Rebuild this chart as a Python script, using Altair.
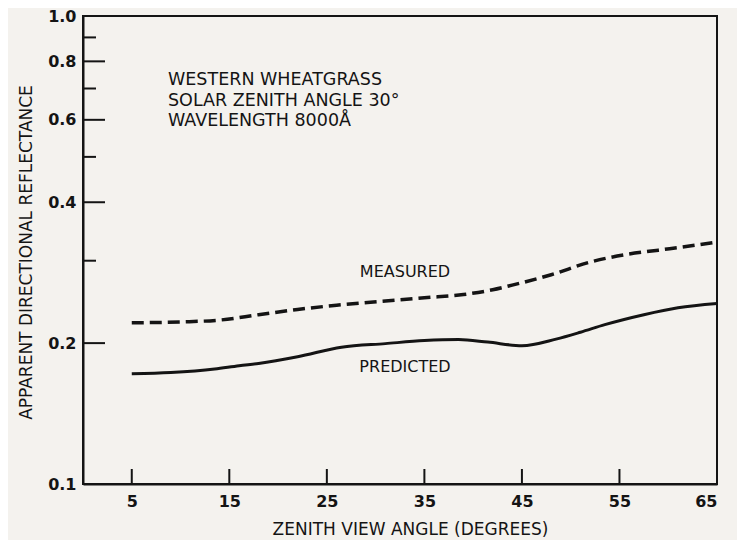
import altair as alt
import pandas as pd

# Measured (dashed) curve
meas_angle = [5, 10, 14, 18, 22, 26, 31, 35, 39, 42, 44, 48, 52, 56, 59, 62, 65]
meas_refl = [0.221, 0.222, 0.224, 0.230, 0.236, 0.241, 0.246, 0.250, 0.254,
             0.260, 0.266, 0.280, 0.298, 0.310, 0.316, 0.322, 0.329]

# Predicted (solid) curve
pred_angle = [5, 9, 13.5, 16, 18, 22, 26.5, 31, 35, 38.5, 41.5, 45, 48.5,
              51, 53.5, 57.5, 61, 65]
pred_refl = [0.172, 0.173, 0.176, 0.179, 0.181, 0.187, 0.196, 0.1995, 0.2025,
             0.2035, 0.201, 0.1975, 0.204, 0.211, 0.219, 0.230, 0.238, 0.243]

x_tick_labels = [5, 15, 25, 35, 45, 55, 65]
x_inner_ticks = [5, 15, 25, 35, 45, 55]
y_tick_labels = [0.1, 0.2, 0.4, 0.6, 0.8, 1.0]
y_major_ticks = [0.2, 0.4, 0.6, 0.8]
y_minor_ticks = [0.3, 0.5, 0.7, 0.9]

info_lines = ["WESTERN WHEATGRASS", "SOLAR ZENITH ANGLE 30°", "WAVELENGTH 8000Å"]
curve_labels = ["MEASURED", "PREDICTED"]

FONT = "DejaVu Sans"
INK = "#141414"

df_meas = pd.DataFrame({"angle": meas_angle, "refl": meas_refl})
df_pred = pd.DataFrame({"angle": pred_angle, "refl": pred_refl})

xscale = alt.Scale(domain=[0, 65], nice=False, zero=False)
yscale = alt.Scale(type="log", domain=[0.1, 1.0], nice=False)

x_axis = alt.Axis(
    values=x_tick_labels, ticks=False, grid=False, labelFont=FONT,
    labelFontSize=16, labelFontWeight="bold", labelColor=INK,
    labelPadding=9, domainColor=INK, domainWidth=2,
    title="ZENITH VIEW ANGLE (DEGREES)", titleFont=FONT, titleFontSize=17,
    titleFontWeight="normal", titleColor=INK, titleX=327, titleY=45,
    titleAlign="center", titleBaseline="middle",
)
y_axis = alt.Axis(
    values=y_tick_labels, format=".1f", ticks=False, grid=False,
    labelFont=FONT, labelFontSize=16, labelFontWeight="bold",
    labelColor=INK, labelPadding=7, domainColor=INK, domainWidth=2,
    title="APPARENT DIRECTIONAL REFLECTANCE", titleFont=FONT,
    titleFontSize=17, titleFontWeight="normal", titleColor=INK,
    titleAngle=270, titleX=-57, titleY=236, titleAlign="center",
    titleBaseline="middle",
)

meas = alt.Chart(df_meas).mark_line(
    color=INK, strokeWidth=3.5, strokeDash=[12, 6], interpolate="monotone"
).encode(
    x=alt.X("angle:Q", scale=xscale, axis=x_axis),
    y=alt.Y("refl:Q", scale=yscale, axis=y_axis),
)

pred = alt.Chart(df_pred).mark_line(
    color=INK, strokeWidth=3, interpolate="monotone"
).encode(
    x=alt.X("angle:Q", scale=xscale),
    y=alt.Y("refl:Q", scale=yscale),
)

xt = alt.Chart(pd.DataFrame({"angle": x_inner_ticks})).mark_rule(
    color=INK, strokeWidth=2
).encode(x=alt.X("angle:Q", scale=xscale), y=alt.value(468), y2=alt.value(453))

ymaj = alt.Chart(pd.DataFrame({"refl": y_major_ticks})).mark_rule(
    color=INK, strokeWidth=2
).encode(y=alt.Y("refl:Q", scale=yscale), x=alt.value(0), x2=alt.value(22))

ymin = alt.Chart(pd.DataFrame({"refl": y_minor_ticks})).mark_rule(
    color=INK, strokeWidth=2
).encode(y=alt.Y("refl:Q", scale=yscale), x=alt.value(0), x2=alt.value(13))

info_layers = []
for line, ypix in zip(info_lines, [64, 84.5, 105]):
    info_layers.append(
        alt.Chart(pd.DataFrame({"t": [line]})).mark_text(
            align="left", baseline="middle", font=FONT, fontSize=17.5, color=INK
        ).encode(text="t:N", x=alt.value(85), y=alt.value(ypix))
    )

curve_layers = []
for line, ypix in zip(curve_labels, [256, 351]):
    curve_layers.append(
        alt.Chart(pd.DataFrame({"t": [line]})).mark_text(
            align="center", baseline="middle", font=FONT, fontSize=16, color=INK
        ).encode(text="t:N", x=alt.value(322), y=alt.value(ypix))
    )

chart = alt.layer(meas, pred, xt, ymaj, ymin, *info_layers, *curve_layers).properties(
    width=634, height=468,
    autosize=alt.AutoSizeParams(type="none"),
    padding={"left": 75, "top": 8, "right": 20, "bottom": 56},
    background="#f4f2ee",
).configure_view(stroke=INK, strokeWidth=2)

chart.save("out.html", embed_options={"renderer": "svg", "actions": False})
